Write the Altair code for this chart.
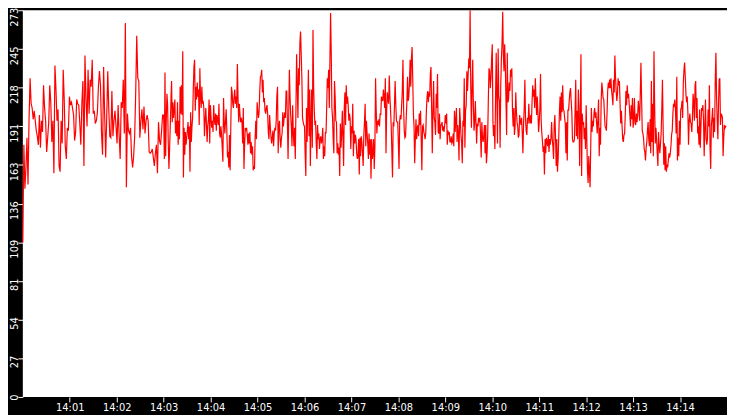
import altair as alt
import pandas as pd

# readings, one list per 3-minute block (14:00 -> 14:15)
block_1400 = [109, 178, 147, 162, 183, 150, 196, 225, 207, 204, 196, 202, 195, 188, 184, 178, 199, 176, 195, 187,
              220, 204, 195, 173, 183, 194, 220, 208, 180, 195, 158, 234, 217, 195, 203, 163, 159, 195, 179, 231,
              209, 177, 168, 190, 188, 212, 206, 208, 204, 199, 181, 187, 210, 207, 206, 193, 178, 207, 223, 163,
              241, 211, 191, 231, 200, 224, 219, 238, 200, 202, 193, 195, 201, 219, 230, 220, 186, 171, 233, 200,
              169, 197, 230, 203, 184, 183, 216, 184, 195, 202, 191, 179, 206, 185, 168, 208, 204, 224, 186, 264,
              148, 200, 188, 186, 190, 170, 162, 170, 184, 215, 255, 225, 223, 183, 195, 203, 189, 205, 186, 195,
              199, 195, 173, 172, 173, 175, 169, 163, 172, 178, 158, 194, 181, 178, 188, 199]
block_1403 = [199, 168, 229, 170, 196, 214, 206, 179, 161, 175, 191, 208, 223, 194, 208, 197, 203, 210, 186, 195,
              184, 208, 178, 195, 182, 219, 200, 220, 199, 244, 155, 190, 171, 187, 178, 183, 188, 194, 182, 191,
              159, 201, 180, 191, 197, 217, 233, 238, 202, 219, 210, 222, 212, 217, 192, 232, 211, 204, 219, 207,
              209, 204, 184, 195, 204, 193, 180, 191, 196, 210, 179, 206, 197, 190, 195, 187, 206, 196, 192, 200,
              188, 199, 196, 192, 207, 186, 183, 191, 185, 176, 166, 211, 194, 186, 195, 203, 188, 169, 173, 162,
              185, 160, 190, 219, 215, 207, 204, 212, 217, 207, 212, 204, 235, 211, 194, 207, 199, 194, 197, 194,
              179, 204, 161, 178, 190, 188, 190, 185, 178, 186, 179, 187, 172, 180, 171, 177, 160, 163, 161, 183,
              195, 182, 208, 202, 197, 201, 216, 226, 227, 231, 215, 224, 208, 211, 202, 200, 204, 206, 200, 187,
              182, 199, 191, 184, 179, 183, 188, 177, 186, 190, 188, 195, 212, 219, 172, 191, 195, 182, 176, 183,
              186, 201, 191, 197, 201, 197, 216, 216, 195, 168, 197, 231, 212, 199, 191, 177, 206, 186, 177, 190,
              168, 204, 242, 220, 197, 232, 220, 250, 258, 242, 225, 197, 194, 192]
block_1406 = [191, 172, 156, 204, 180, 204, 231, 184, 217, 163, 195, 217, 176, 259, 219, 202, 192, 195, 179, 168,
              192, 182, 186, 175, 182, 184, 179, 182, 190, 168, 177, 170, 187, 186, 204, 225, 218, 231, 204, 238,
              271, 243, 204, 197, 182, 172, 223, 212, 195, 194, 172, 179, 171, 176, 156, 193, 176, 186, 202, 183,
              163, 204, 215, 192, 220, 207, 212, 206, 195, 200, 196, 175, 191, 186, 207, 170, 188, 179, 185, 182,
              172, 168, 170, 182, 157, 183, 170, 184, 180, 172, 163, 185, 194, 207, 177, 195, 186, 179, 168, 186,
              171, 182, 154, 182, 168, 172, 182, 161, 177, 225, 202, 186, 195, 192, 196, 191, 200, 199, 212, 210,
              209, 217, 212, 204, 225, 172, 202, 215, 210, 207, 227, 212, 202, 191, 173, 155, 194, 191, 206, 223,
              207, 195, 194, 194, 179, 161, 195, 199, 196, 206, 216, 238, 204, 188, 183, 184, 197, 208, 226, 209,
              212, 222, 238, 219, 239, 247, 225, 200, 191, 165, 182, 196, 182, 190, 192, 184, 200, 192, 202, 182,
              160, 191, 192, 187, 185, 182, 186, 203, 212, 216, 208, 215, 212, 228, 233, 203, 172, 202, 223, 197,
              194, 185, 214, 204, 228, 187, 186, 200, 182, 192, 192, 194, 188, 191, 187, 192]
block_1409 = [199, 193, 200, 178, 188, 186, 187, 180, 180, 184, 179, 180, 186, 177, 202, 187, 195, 204, 180, 192,
              186, 167, 204, 195, 185, 179, 165, 195, 191, 225, 176, 202, 206, 230, 216, 228, 239, 232, 273, 219,
              190, 218, 238, 206, 188, 194, 209, 194, 179, 193, 191, 197, 194, 197, 185, 169, 194, 183, 180, 185,
              192, 172, 192, 165, 172, 185, 211, 232, 230, 218, 225, 239, 249, 194, 184, 192, 175, 211, 243, 211,
              179, 246, 212, 209, 176, 220, 239, 250, 272, 241, 230, 249, 234, 210, 185, 243, 208, 210, 222, 216,
              231, 226, 232, 202, 191, 204, 185, 191, 215, 202, 194, 191, 183, 185, 199, 195, 192, 197, 186, 172,
              193, 204, 224, 196, 188, 185, 197, 193, 207, 196, 193, 199, 193, 208, 220, 212, 217, 204, 225, 211,
              199, 212, 201, 187, 194, 204, 228, 195, 186, 180, 173, 177, 157, 182, 172, 183, 180, 177, 185, 173,
              182, 178, 183, 194, 182, 177, 168, 192, 199, 184, 163, 182, 159, 168, 184, 202, 212, 195, 215, 201,
              220, 203, 202, 197, 193, 172, 194, 167, 203, 202, 209, 215, 218, 209, 201, 182, 180, 180, 182, 202,
              224, 184, 202, 182, 217, 204, 163, 197, 242, 156, 200, 192, 194, 182, 190, 175]
block_1412 = [206, 182, 160, 151, 170, 159, 148, 177, 204, 187, 195, 191, 200, 204, 197, 201, 193, 186, 197, 210,
              170, 190, 178, 209, 222, 217, 211, 210, 200, 191, 190, 188, 200, 216, 222, 218, 224, 218, 225, 216,
              212, 206, 224, 215, 241, 226, 216, 209, 214, 225, 220, 223, 207, 193, 202, 192, 182, 180, 185, 186,
              200, 216, 206, 220, 211, 214, 207, 199, 191, 206, 196, 211, 190, 196, 211, 193, 192, 200, 194, 199,
              209, 203, 195, 214, 236, 211, 188, 186, 183, 175, 173, 167, 176, 180, 188, 194, 182, 177, 196, 172,
              223, 180, 207, 170, 244, 207, 179, 190, 182, 172, 163, 187, 177, 172, 179, 186, 203, 224, 192, 164,
              179, 160, 177, 159, 164, 162, 167, 172, 169, 172, 177, 185, 188, 200, 207, 206, 210, 202, 186, 226,
              167, 183, 170, 195, 178, 203, 204, 209, 197, 222, 231, 236, 226, 214, 208, 212, 201, 178, 195, 200,
              194, 193, 187, 197, 214, 208, 195, 220, 223, 197, 211, 186, 191, 178, 203, 176, 191, 204, 202, 206,
              195, 170, 190, 210, 183, 178, 182, 203, 191, 220, 176, 161, 192, 197, 204, 183, 197, 187, 224, 243,
              212, 195, 182, 207, 224, 225, 192, 200, 199, 197, 170, 183, 192, 190, 191, 191]
blocks = [block_1400, block_1403, block_1406, block_1409, block_1412]

y_ticks = [0, 27.3, 54.6, 81.9, 109.2, 136.5, 163.8, 191.1, 218.4, 245.7, 273]
x_tick_minutes = list(range(1, 15))   # 14:01 .. 14:14

start = pd.Timestamp("2024-01-01 14:00:00")
rows = []
for k, block in enumerate(blocks):
    step = 180.0 / len(block)
    for i, v in enumerate(block):
        t = start + pd.Timedelta(milliseconds=round((180 * k + i * step) * 1000))
        rows.append({"t": t.strftime("%Y-%m-%dT%H:%M:%S.%f")[:-3], "v": v})
df = pd.DataFrame(rows)


def at(h, m):
    return alt.DateTime(year=2024, month=1, date=1, hours=h, minutes=m)


chart = (
    alt.Chart(df)
    .mark_line(color="#ff0000", strokeWidth=1.2)
    .encode(
        x=alt.X("t:T", title=None,
                scale=alt.Scale(domain=[at(14, 0), at(14, 15)]),
                axis=alt.Axis(values=[at(14, m) for m in x_tick_minutes], format="%H:%M",
                              labelPadding=1)),
        y=alt.Y("v:Q", title=None,
                scale=alt.Scale(domain=[0, 273], nice=False),
                axis=alt.Axis(values=y_ticks, labelExpr="floor(datum.value)",
                              labelAngle=270, labelAlign="right", labelBaseline="middle",
                              labelPadding=3, labelOffset=-3)),
    )
    .properties(width=712, height=391, background="black",
                padding={"left": 15, "top": 0, "right": 0, "bottom": 16},
                autosize=alt.AutoSizeParams(type="none"))
    .configure_view(fill="white", strokeWidth=0)
    .configure_axis(domain=False, grid=False, tickColor="white", tickSize=5, tickWidth=1,
                    labelColor="white", labelFont="DejaVu Sans", labelFontSize=10,
                    labelOverlap=False, labelFlush=False, labelBound=False)
)

chart.save("out.html", embed_options={"renderer": "svg", "actions": False})
